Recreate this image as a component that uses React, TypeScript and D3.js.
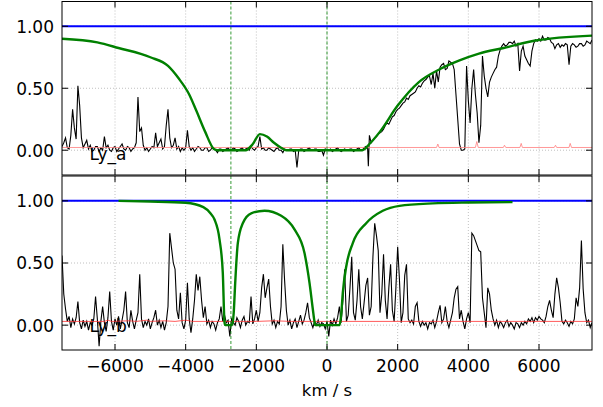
import * as d3 from "d3";

// Ly_a panel: observed flux [km/s, flux]
const topFlux: [number, number][] = [
  [-7500, 0.03], [-7450, 0.06], [-7400, 0.10], [-7350, 0.02], [-7300, 0.01], [-7250, 0.12],
  [-7200, 0.33], [-7150, 0.18], [-7100, 0.09], [-7050, 0.52], [-7000, 0.36], [-6950, 0.10],
  [-6900, 0.02], [-6800, 0.08], [-6750, 0.01], [-6700, 0.04], [-6650, -0.01], [-6600, 0.00],
  [-6550, 0.03], [-6500, 0.03], [-6450, -0.01], [-6400, 0.02], [-6350, 0.00], [-6300, 0.11],
  [-6250, 0.02], [-6200, 0.04], [-6150, 0.00], [-6100, -0.01], [-6050, 0.02], [-6000, 0.03],
  [-5950, -0.01], [-5900, 0.01], [-5850, 0.03], [-5800, 0.05], [-5750, 0.01], [-5700, 0.00],
  [-5650, 0.03], [-5600, 0.02], [-5550, -0.01], [-5500, 0.01], [-5450, 0.02], [-5400, 0.06],
  [-5350, 0.43], [-5300, 0.15], [-5250, 0.18], [-5200, 0.04], [-5150, 0.00], [-5100, 0.02],
  [-5050, -0.01], [-5000, 0.01], [-4950, 0.03], [-4900, 0.02], [-4850, 0.14], [-4800, 0.03],
  [-4700, 0.09], [-4650, 0.01], [-4600, 0.03], [-4550, 0.20], [-4500, 0.33], [-4450, 0.10],
  [-4400, 0.02], [-4350, 0.04], [-4300, 0.10], [-4250, 0.01], [-4200, 0.03], [-4150, -0.01],
  [-4100, 0.02], [-4050, 0.00], [-4000, 0.02], [-3950, 0.16], [-3900, 0.03], [-3850, 0.00],
  [-3800, 0.02], [-3750, -0.01], [-3700, 0.01], [-3650, 0.03], [-3600, 0.02], [-3550, 0.00],
  [-3500, 0.00], [-3450, 0.02], [-3400, 0.02], [-3350, -0.01], [-3300, 0.00], [-3250, 0.02],
  [-3200, 0.01], [-3150, 0.00], [-3100, -0.02], [-3050, 0.01], [-3000, 0.01], [-2950, -0.01],
  [-2900, 0.00], [-2850, 0.01], [-2800, 0.02], [-2750, 0.00], [-2700, 0.00], [-2650, 0.02],
  [-2600, 0.01], [-2550, -0.01], [-2500, 0.00], [-2450, 0.01], [-2400, 0.02], [-2350, 0.00],
  [-2300, 0.01], [-2250, 0.02], [-2200, 0.00], [-2150, 0.03], [-2100, 0.01], [-2050, 0.00],
  [-2000, 0.02], [-1950, 0.03], [-1900, 0.11], [-1850, 0.01], [-1800, 0.02], [-1750, 0.00],
  [-1700, 0.00], [-1650, 0.02], [-1600, 0.01], [-1550, 0.00], [-1500, -0.01], [-1450, 0.01],
  [-1400, 0.02], [-1350, 0.00], [-1300, 0.00], [-1250, -0.02], [-1200, 0.01], [-1150, 0.00],
  [-1100, 0.00], [-1050, 0.01], [-1000, 0.01], [-950, -0.01], [-900, 0.00], [-850, -0.14],
  [-800, 0.00], [-750, 0.01], [-700, 0.01], [-650, -0.01], [-600, 0.00], [-550, 0.01],
  [-500, 0.02], [-450, 0.00], [-400, 0.00], [-350, 0.01], [-300, 0.01], [-250, -0.01],
  [-200, -0.01], [-150, 0.00], [-100, -0.04], [-50, 0.01], [0, 0.00], [50, 0.00],
  [100, 0.01], [150, -0.01], [200, 0.00], [250, 0.01], [300, 0.02], [350, 0.00],
  [400, -0.01], [450, 0.00], [500, 0.01], [550, 0.00], [600, 0.00], [650, 0.01],
  [700, 0.01], [750, -0.01], [800, 0.00], [850, 0.01], [900, 0.02], [950, 0.00],
  [1000, 0.00], [1050, 0.02], [1100, 0.03], [1150, 0.01], [1170, -0.13], [1200, 0.12],
  [1250, 0.06], [1300, 0.08], [1350, 0.10], [1400, 0.11], [1450, 0.13], [1500, 0.14],
  [1550, 0.15], [1600, 0.17], [1650, 0.20], [1700, 0.22], [1750, 0.21], [1800, 0.24],
  [1850, 0.27], [1900, 0.28], [1950, 0.31], [2000, 0.33], [2050, 0.34], [2100, 0.36],
  [2150, 0.38], [2200, 0.39], [2250, 0.42], [2300, 0.41], [2350, 0.44], [2400, 0.45],
  [2450, 0.46], [2500, 0.47], [2550, 0.50], [2600, 0.52], [2650, 0.51], [2700, 0.54],
  [2750, 0.56], [2800, 0.57], [2850, 0.59], [2900, 0.60], [2950, 0.53], [3000, 0.62],
  [3050, 0.50], [3100, 0.64], [3150, 0.55], [3200, 0.67], [3250, 0.69], [3300, 0.70],
  [3350, 0.65], [3400, 0.66], [3450, 0.72], [3500, 0.71], [3550, 0.70], [3600, 0.65],
  [3650, 0.45], [3700, 0.25], [3750, 0.05], [3800, 0.00], [3850, 0.00], [3900, 0.01],
  [3950, 0.68], [4000, 0.40], [4050, 0.22], [4100, 0.50], [4150, 0.65], [4200, 0.45],
  [4250, 0.30], [4300, 0.06], [4350, 0.20], [4400, 0.76], [4450, 0.60], [4500, 0.50],
  [4550, 0.43], [4600, 0.55], [4650, 0.59], [4700, 0.62], [4750, 0.65], [4800, 0.67],
  [4850, 0.76], [4900, 0.81], [4950, 0.84], [5000, 0.86], [5050, 0.84], [5100, 0.85],
  [5150, 0.87], [5200, 0.87], [5250, 0.86], [5300, 0.88], [5350, 0.84], [5400, 0.86],
  [5450, 0.64], [5500, 0.80], [5550, 0.84], [5600, 0.76], [5650, 0.73], [5700, 0.70],
  [5750, 0.68], [5800, 0.80], [5850, 0.86], [5900, 0.89], [5950, 0.88], [6000, 0.90],
  [6050, 0.88], [6100, 0.92], [6150, 0.89], [6200, 0.89], [6250, 0.91], [6300, 0.90],
  [6350, 0.87], [6400, 0.86], [6450, 0.82], [6500, 0.85], [6550, 0.86], [6600, 0.83],
  [6650, 0.85], [6700, 0.84], [6750, 0.86], [6800, 0.85], [6850, 0.69], [6900, 0.84],
  [6950, 0.86], [7000, 0.85], [7050, 0.83], [7100, 0.84], [7150, 0.86], [7200, 0.86],
  [7250, 0.84], [7300, 0.85], [7350, 0.88], [7400, 0.87], [7450, 0.86], [7500, 0.89],
];

// Ly_a panel: model
const topModel: [number, number][] = [
  [-7500, 0.90], [-6500, 0.87], [-5900, 0.825], [-5000, 0.75], [-4500, 0.68], [-4200, 0.58],
  [-3900, 0.45], [-3700, 0.32], [-3450, 0.15], [-3200, 0.01], [-3100, 0.0], [-2300, 0.0],
  [-2100, 0.05], [-1900, 0.13], [-1700, 0.11], [-1500, 0.06], [-1300, 0.02], [-1150, 0.0],
  [1000, 0.0], [1200, 0.05], [1500, 0.15], [2000, 0.36], [2600, 0.55], [3200, 0.655],
  [3750, 0.725], [4300, 0.78], [5000, 0.825], [5900, 0.885], [7500, 0.925],
];

// Ly_a panel: error
const topError: [number, number][] = [
  [-7500, 0.022], [3100, 0.022], [3137, 0.05], [3170, 0.022], [4200, 0.022], [4240, 0.07],
  [4280, 0.022], [4990, 0.022], [5023, 0.04], [5060, 0.022], [5460, 0.022], [5496, 0.055],
  [5530, 0.022], [6430, 0.022], [6467, 0.04], [6500, 0.022], [6850, 0.022], [6883, 0.055],
  [6920, 0.022], [7500, 0.022],
];

// Ly_b panel: observed flux
const botFlux: [number, number][] = [
  [-7500, 0.56], [-7450, 0.25], [-7400, 0.13], [-7350, 0.03], [-7300, 0.07], [-7250, -0.02],
  [-7200, 0.05], [-7150, 0.01], [-7100, 0.06], [-7050, 0.19], [-7000, 0.02], [-6950, -0.03],
  [-6900, 0.04], [-6850, -0.01], [-6800, 0.03], [-6750, -0.04], [-6700, 0.02], [-6650, 0.00],
  [-6600, 0.05], [-6550, 0.23], [-6500, 0.05], [-6450, -0.17], [-6400, 0.03], [-6350, 0.15],
  [-6300, 0.02], [-6250, -0.05], [-6200, 0.06], [-6150, 0.27], [-6100, 0.03], [-6050, -0.04],
  [-6000, 0.05], [-5950, 0.00], [-5900, 0.07], [-5850, -0.03], [-5800, 0.04], [-5750, 0.12],
  [-5700, 0.27], [-5650, 0.02], [-5600, -0.02], [-5550, 0.12], [-5500, 0.03], [-5450, -0.03],
  [-5400, 0.04], [-5350, 0.10], [-5300, 0.41], [-5250, 0.05], [-5200, -0.02], [-5150, 0.03],
  [-5100, 0.00], [-5050, 0.05], [-5000, -0.03], [-4950, 0.02], [-4900, 0.06], [-4850, 0.12],
  [-4800, 0.00], [-4750, 0.04], [-4700, -0.02], [-4650, 0.03], [-4600, -0.04], [-4550, 0.02],
  [-4500, 0.15], [-4450, 0.74], [-4400, 0.62], [-4350, 0.50], [-4300, 0.45], [-4250, 0.12],
  [-4200, 0.05], [-4150, 0.26], [-4100, 0.02], [-4050, -0.03], [-4000, 0.04], [-3950, 0.34],
  [-3900, 0.05], [-3850, -0.06], [-3800, 0.05], [-3750, 0.20], [-3700, 0.41], [-3650, 0.28],
  [-3600, 0.39], [-3550, 0.20], [-3500, 0.06], [-3450, 0.15], [-3400, 0.01], [-3350, 0.04],
  [-3300, -0.02], [-3250, 0.03], [-3200, 0.01], [-3150, -0.04], [-3100, 0.02], [-3050, 0.05],
  [-3000, 0.15], [-2950, 0.03], [-2900, 0.08], [-2850, 0.02], [-2800, 0.04], [-2750, -0.09],
  [-2700, 0.05], [-2650, 0.02], [-2600, 0.00], [-2550, 0.06], [-2500, 0.03], [-2450, -0.02],
  [-2400, 0.04], [-2350, 0.07], [-2300, 0.00], [-2250, 0.03], [-2200, 0.02], [-2150, 0.23],
  [-2100, 0.01], [-2050, 0.05], [-2000, 0.12], [-1950, 0.03], [-1900, 0.10], [-1850, 0.30],
  [-1800, 0.41], [-1750, 0.22], [-1700, 0.30], [-1650, 0.37], [-1600, 0.15], [-1550, 0.01],
  [-1500, 0.04], [-1450, -0.02], [-1400, 0.03], [-1350, 0.01], [-1300, 0.15], [-1250, 0.65],
  [-1200, 0.36], [-1150, 0.12], [-1100, 0.00], [-1050, 0.04], [-1000, -0.03], [-950, 0.02],
  [-900, 0.05], [-850, -0.02], [-800, 0.03], [-750, 0.08], [-700, 0.01], [-650, 0.04],
  [-600, 0.10], [-550, 0.18], [-500, 0.06], [-450, 0.02], [-400, -0.02], [-350, 0.03],
  [-300, 0.00], [-250, 0.04], [-200, -0.01], [-150, 0.02], [-100, 0.01], [-50, -0.03],
  [0, 0.03], [50, -0.09], [100, 0.04], [150, 0.00], [200, 0.05], [250, 0.01],
  [300, 0.06], [350, 0.15], [400, 0.02], [450, 0.20], [500, 0.45], [550, 0.03],
  [600, 0.08], [650, 0.30], [700, 0.55], [750, 0.10], [800, 0.04], [850, 0.20],
  [900, 0.45], [950, 0.15], [1000, 0.05], [1050, 0.18], [1100, 0.32], [1150, 0.38],
  [1200, 0.08], [1250, 0.15], [1300, 0.55], [1350, 0.82], [1400, 0.72], [1450, 0.60],
  [1500, 0.10], [1550, 0.25], [1600, 0.57], [1650, 0.20], [1700, 0.05], [1750, 0.30],
  [1800, 0.49], [1850, 0.12], [1900, 0.03], [1950, 0.30], [2000, 0.63], [2050, 0.37],
  [2100, 0.02], [2150, 0.10], [2200, 0.40], [2250, 0.49], [2300, 0.05], [2350, 0.02],
  [2400, 0.04], [2450, 0.01], [2500, 0.15], [2550, 0.18], [2600, 0.03], [2650, -0.01],
  [2700, 0.03], [2750, 0.00], [2800, 0.02], [2850, -0.03], [2900, 0.02], [2950, 0.01],
  [3000, 0.04], [3050, -0.02], [3100, 0.03], [3150, 0.10], [3200, 0.16], [3250, 0.02],
  [3300, 0.05], [3350, 0.15], [3400, 0.03], [3450, -0.02], [3500, 0.04], [3550, 0.10],
  [3600, 0.22], [3650, 0.29], [3700, 0.31], [3750, 0.05], [3800, 0.12], [3850, 0.03],
  [3900, -0.03], [3950, 0.05], [4000, 0.10], [4050, 0.02], [4100, 0.74], [4150, 0.72],
  [4200, 0.68], [4250, 0.64], [4300, 0.60], [4350, 0.59], [4400, 0.22], [4450, 0.10],
  [4500, -0.02], [4550, 0.30], [4600, 0.25], [4650, 0.12], [4700, 0.05], [4750, 0.00],
  [4800, 0.04], [4850, -0.02], [4900, 0.03], [4950, 0.01], [5000, -0.02], [5050, 0.02],
  [5100, 0.04], [5150, -0.01], [5200, 0.02], [5250, 0.00], [5300, -0.03], [5350, 0.02],
  [5400, 0.01], [5450, -0.02], [5500, 0.02], [5550, 0.00], [5600, 0.03], [5650, 0.01],
  [5700, 0.05], [5750, 0.03], [5800, 0.06], [5850, 0.02], [5900, 0.06], [5950, 0.04],
  [6000, 0.07], [6050, 0.05], [6100, 0.04], [6150, 0.02], [6200, 0.07], [6250, 0.15],
  [6300, 0.20], [6350, 0.12], [6400, 0.06], [6450, 0.25], [6500, 0.38], [6550, 0.30],
  [6600, 0.18], [6650, 0.03], [6700, 0.01], [6750, 0.04], [6800, 0.02], [6850, -0.01],
  [6900, 0.03], [6950, 0.01], [7000, 0.05], [7050, 0.22], [7100, 0.15], [7150, 0.30],
  [7200, 0.68], [7250, 0.29], [7300, 0.10], [7350, 0.02], [7400, 0.04], [7450, -0.02],
  [7500, 0.02],
];

// Ly_b panel: model
const botModel: [number, number][] = [
  [-5900, 1.0], [-5000, 0.995], [-4000, 0.985], [-3500, 0.95], [-3300, 0.90], [-3184, 0.85],
  [-3042, 0.69], [-2949, 0.42], [-2900, 0.02], [-2880, 0.0], [-2680, 0.0], [-2640, 0.10],
  [-2598, 0.34], [-2524, 0.66], [-2383, 0.82], [-2145, 0.90], [-1769, 0.92], [-1296, 0.88],
  [-920, 0.77], [-637, 0.58], [-495, 0.34], [-402, 0.13], [-350, 0.02], [-334, 0.0],
  [354, 0.0], [400, 0.08], [447, 0.26], [543, 0.47], [730, 0.66], [1109, 0.82],
  [1579, 0.92], [2052, 0.96], [2994, 0.98], [4000, 0.987], [5250, 0.99],
];

// Ly_b panel: error
const botError: [number, number][] = [
  [-7500, 0.03], [-6300, 0.03], [-6200, 0.04], [-6100, 0.03], [-5600, 0.035], [-5400, 0.03],
  [-5100, 0.04], [-5000, 0.03], [-4600, 0.035], [-4300, 0.03], [-4000, 0.04], [-3800, 0.03],
  [-2000, 0.03], [-1500, 0.035], [-1000, 0.03], [7500, 0.03],
];

const continuum: [number, number][] = [[-7500, 1.0], [7500, 1.0]];
const markers = [-2720, 0];
const xTicks = [-6000, -4000, -2000, 0, 2000, 4000, 6000];
const yTicks = [0, 0.5, 1.0];
const labels = ["Ly_a", "Ly_b"];

const FONT = "DejaVu Sans";
const FS = 17;

export default function App() {
  const x = d3.scaleLinear().domain([-7500, 7500]).range([62, 592]);
  const panels = [
    { top: 1.5, bottom: 175, flux: topFlux, model: topModel, err: topError, label: labels[0], labelY: -0.075, errColor: "#ff8080" },
    { top: 176, bottom: 350, flux: botFlux, model: botModel, err: botError, label: labels[1], labelY: -0.055, errColor: "#ff3333" },
  ];
  const fmt = (v: number) => (v < 0 ? "\u2212" + Math.abs(v) : String(v));

  return (
    <svg width={603} height={407} style={{ position: "absolute", left: 0, top: 0, background: "#fff" }}
      fontFamily={FONT}>
      <rect width={603} height={407} fill="#fff" />
      {panels.map((p, i) => {
        const y = d3.scaleLinear().domain([-0.2, 1.2]).range([p.bottom, p.top]);
        const line = d3.line<[number, number]>().x(d => x(d[0])).y(d => y(d[1]));
        const smooth = d3.line<[number, number]>().x(d => x(d[0])).y(d => y(d[1])).curve(d3.curveMonotoneX);
        const [x0, x1] = x.range();
        return (
          <g key={i}>
            <defs>
              <clipPath id={"clip" + i}>
                <rect x={x0} y={p.top} width={x1 - x0} height={p.bottom - p.top} />
              </clipPath>
            </defs>
            {/* grid */}
            {xTicks.map(t => (
              <line key={"gx" + t} x1={x(t)} x2={x(t)} y1={p.top} y2={p.bottom}
                stroke="#b0b0b0" strokeWidth={0.8} strokeDasharray="1,2" />
            ))}
            {yTicks.map(t => (
              <line key={"gy" + t} x1={x0} x2={x1} y1={y(t)} y2={y(t)}
                stroke="#b0b0b0" strokeWidth={0.8} strokeDasharray="1,2" />
            ))}
            <g clipPath={`url(#clip${i})`}>
              <text x={x(-6720)} y={y(p.labelY)} fontSize={FS} fill="#000">{p.label}</text>
              <path d={line(p.flux) ?? ""} fill="none" stroke="#000" strokeWidth={1.1} />
              <path d={line(p.err) ?? ""} fill="none" stroke={p.errColor} strokeOpacity={0.8} strokeWidth={1} />
              <path d={line(continuum) ?? ""} fill="none" stroke="#0000ff" strokeWidth={2} />
              <path d={smooth(p.model) ?? ""} fill="none" stroke="#008000" strokeWidth={2.4} />
              {markers.map(m => (
                <line key={"m" + m} x1={x(m)} x2={x(m)} y1={p.top} y2={p.bottom}
                  stroke="#008000" strokeWidth={0.8} strokeDasharray="3,2" />
              ))}
            </g>
            {/* ticks, inward on all sides */}
            {xTicks.map(t => (
              <g key={"tx" + t}>
                <line x1={x(t)} x2={x(t)} y1={p.bottom} y2={p.bottom - 6} stroke="#000" />
                <line x1={x(t)} x2={x(t)} y1={p.top} y2={p.top + 6} stroke="#000" />
              </g>
            ))}
            {yTicks.map(t => (
              <g key={"ty" + t}>
                <line x1={x0} x2={x0 + 6} y1={y(t)} y2={y(t)} stroke="#000" />
                <line x1={x1} x2={x1 - 6} y1={y(t)} y2={y(t)} stroke="#000" />
                <text x={x0 - 8} y={y(t)} dy="0.38em" textAnchor="end" fontSize={FS} fill="#000">
                  {t.toFixed(2)}
                </text>
              </g>
            ))}
            <rect x={x0} y={p.top} width={x1 - x0} height={p.bottom - p.top}
              fill="none" stroke="#000" strokeWidth={1} />
          </g>
        );
      })}
      {xTicks.map(t => (
        <text key={"lx" + t} x={x(t)} y={372} textAnchor="middle" fontSize={FS} fill="#000">{fmt(t)}</text>
      ))}
      <text x={x(0)} y={396} textAnchor="middle" fontSize={16.5} fill="#000">km / s</text>
    </svg>
  );
}
